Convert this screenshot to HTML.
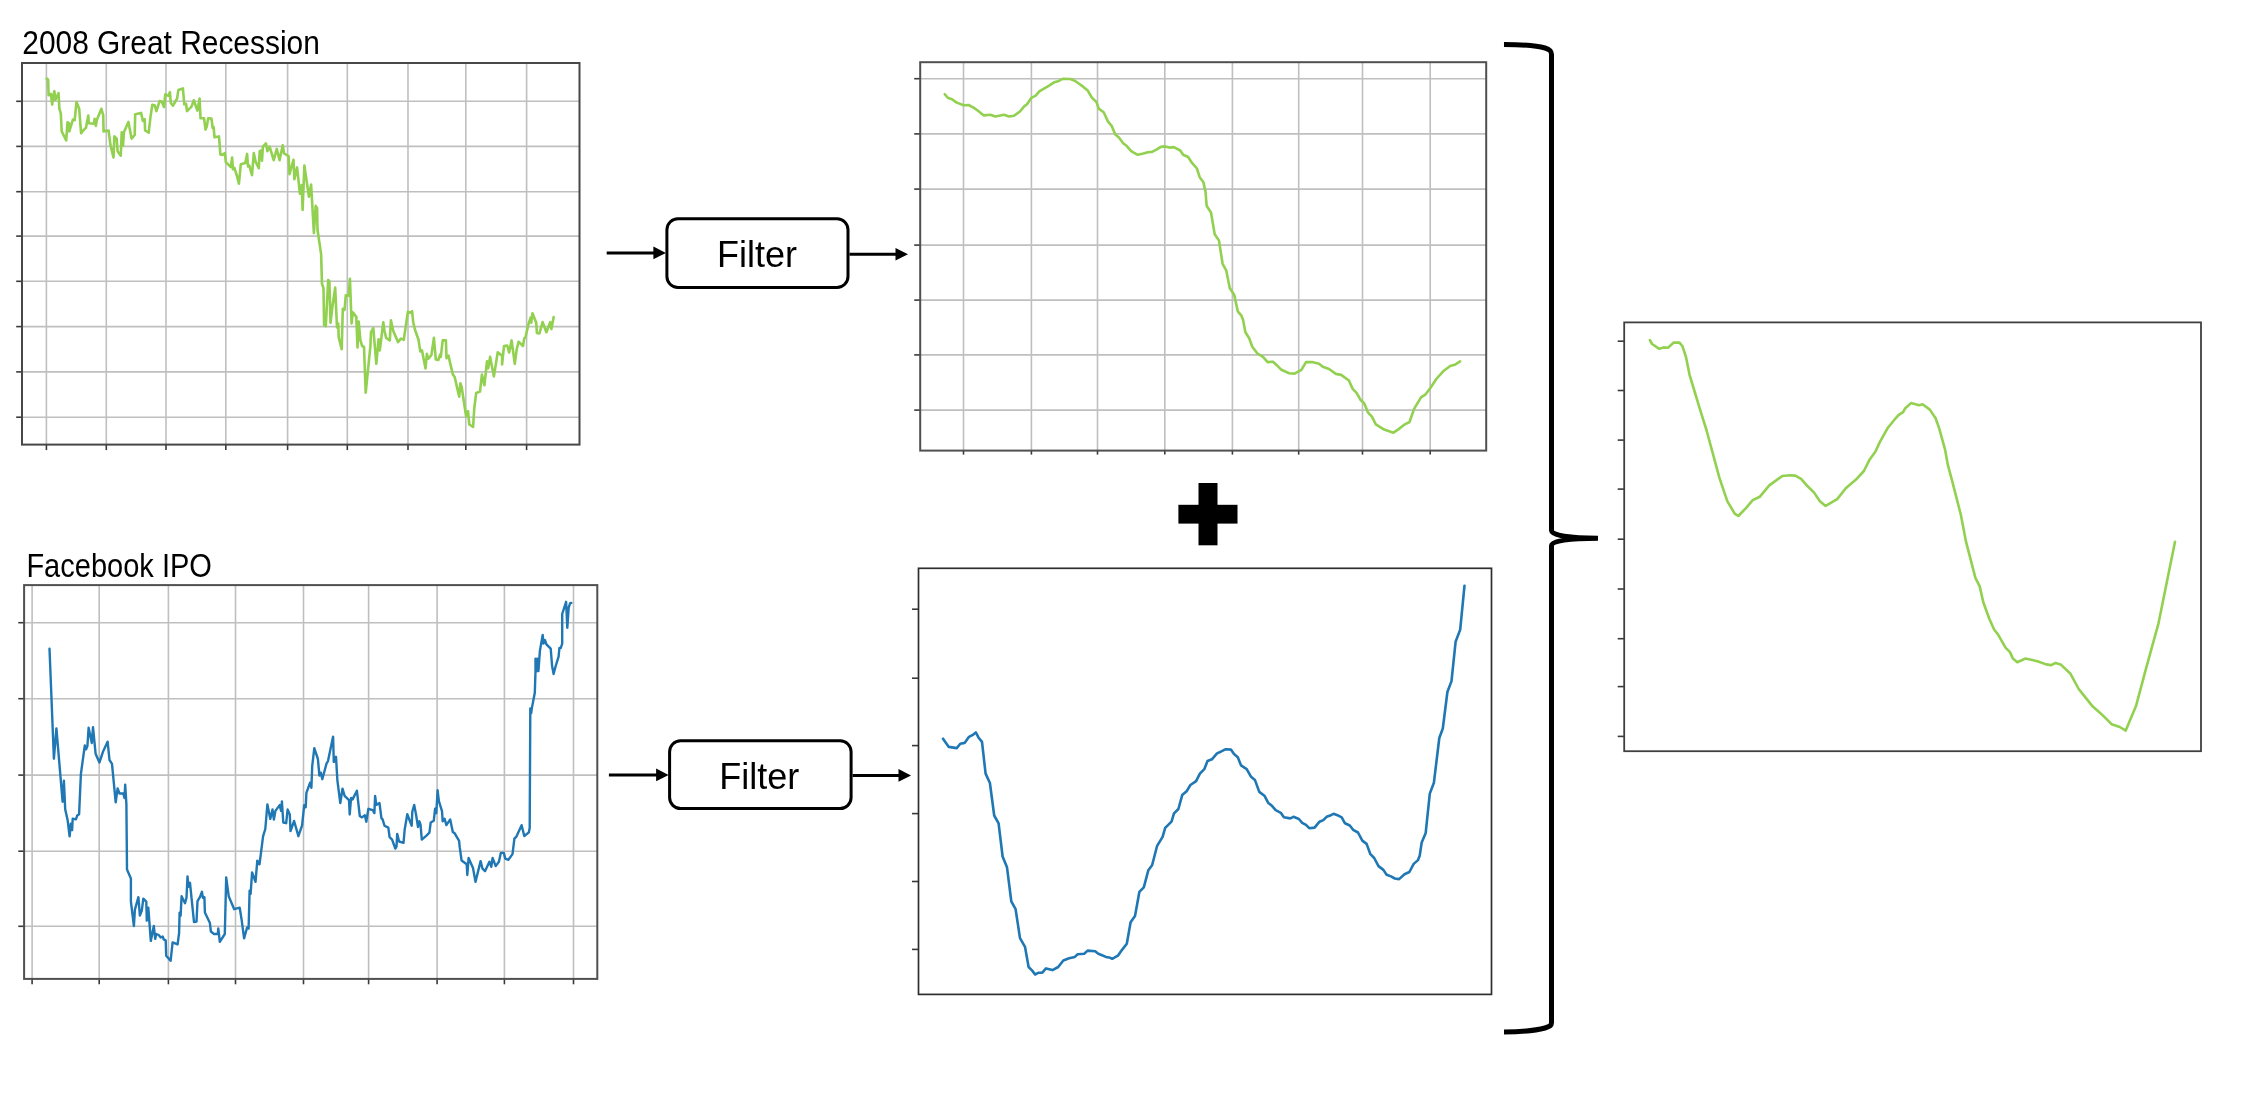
<!DOCTYPE html>
<html><head><meta charset="utf-8"><style>
html,body{margin:0;padding:0;background:#fff;}
body{width:2262px;height:1108px;overflow:hidden;}
svg{display:block;}
text{font-family:"Liberation Sans",sans-serif;fill:#000;}
svg{will-change:transform;}
</style></head><body>
<svg width="2262" height="1108" viewBox="0 0 2262 1108">
<rect width="2262" height="1108" fill="#fff"/>
<line x1="46.4" y1="63" x2="46.4" y2="444.6" stroke="#bfbfbf" stroke-width="1.6"/>
<line x1="106.3" y1="63" x2="106.3" y2="444.6" stroke="#bfbfbf" stroke-width="1.6"/>
<line x1="166" y1="63" x2="166" y2="444.6" stroke="#bfbfbf" stroke-width="1.6"/>
<line x1="225.8" y1="63" x2="225.8" y2="444.6" stroke="#bfbfbf" stroke-width="1.6"/>
<line x1="287.6" y1="63" x2="287.6" y2="444.6" stroke="#bfbfbf" stroke-width="1.6"/>
<line x1="347.3" y1="63" x2="347.3" y2="444.6" stroke="#bfbfbf" stroke-width="1.6"/>
<line x1="408" y1="63" x2="408" y2="444.6" stroke="#bfbfbf" stroke-width="1.6"/>
<line x1="465.8" y1="63" x2="465.8" y2="444.6" stroke="#bfbfbf" stroke-width="1.6"/>
<line x1="526.6" y1="63" x2="526.6" y2="444.6" stroke="#bfbfbf" stroke-width="1.6"/>
<line x1="22" y1="101.3" x2="579.5" y2="101.3" stroke="#bfbfbf" stroke-width="1.6"/>
<line x1="22" y1="146.4" x2="579.5" y2="146.4" stroke="#bfbfbf" stroke-width="1.6"/>
<line x1="22" y1="191.7" x2="579.5" y2="191.7" stroke="#bfbfbf" stroke-width="1.6"/>
<line x1="22" y1="236.1" x2="579.5" y2="236.1" stroke="#bfbfbf" stroke-width="1.6"/>
<line x1="22" y1="281.3" x2="579.5" y2="281.3" stroke="#bfbfbf" stroke-width="1.6"/>
<line x1="22" y1="326.6" x2="579.5" y2="326.6" stroke="#bfbfbf" stroke-width="1.6"/>
<line x1="22" y1="371.9" x2="579.5" y2="371.9" stroke="#bfbfbf" stroke-width="1.6"/>
<line x1="22" y1="417.2" x2="579.5" y2="417.2" stroke="#bfbfbf" stroke-width="1.6"/>
<line x1="16.2" y1="101.3" x2="22" y2="101.3" stroke="#3a3a3a" stroke-width="1.6"/>
<line x1="16.2" y1="146.4" x2="22" y2="146.4" stroke="#3a3a3a" stroke-width="1.6"/>
<line x1="16.2" y1="191.7" x2="22" y2="191.7" stroke="#3a3a3a" stroke-width="1.6"/>
<line x1="16.2" y1="236.1" x2="22" y2="236.1" stroke="#3a3a3a" stroke-width="1.6"/>
<line x1="16.2" y1="281.3" x2="22" y2="281.3" stroke="#3a3a3a" stroke-width="1.6"/>
<line x1="16.2" y1="326.6" x2="22" y2="326.6" stroke="#3a3a3a" stroke-width="1.6"/>
<line x1="16.2" y1="371.9" x2="22" y2="371.9" stroke="#3a3a3a" stroke-width="1.6"/>
<line x1="16.2" y1="417.2" x2="22" y2="417.2" stroke="#3a3a3a" stroke-width="1.6"/>
<line x1="46.4" y1="444.6" x2="46.4" y2="450.1" stroke="#3a3a3a" stroke-width="1.6"/>
<line x1="106.3" y1="444.6" x2="106.3" y2="450.1" stroke="#3a3a3a" stroke-width="1.6"/>
<line x1="166" y1="444.6" x2="166" y2="450.1" stroke="#3a3a3a" stroke-width="1.6"/>
<line x1="225.8" y1="444.6" x2="225.8" y2="450.1" stroke="#3a3a3a" stroke-width="1.6"/>
<line x1="287.6" y1="444.6" x2="287.6" y2="450.1" stroke="#3a3a3a" stroke-width="1.6"/>
<line x1="347.3" y1="444.6" x2="347.3" y2="450.1" stroke="#3a3a3a" stroke-width="1.6"/>
<line x1="408" y1="444.6" x2="408" y2="450.1" stroke="#3a3a3a" stroke-width="1.6"/>
<line x1="465.8" y1="444.6" x2="465.8" y2="450.1" stroke="#3a3a3a" stroke-width="1.6"/>
<line x1="526.6" y1="444.6" x2="526.6" y2="450.1" stroke="#3a3a3a" stroke-width="1.6"/>
<polyline points="46.8,78.6 48.1,79.5 48.6,95.3 50.8,93.9 52.2,104.7 53.1,96.2 54.4,91.2 55.3,99.8 56.7,97.1 58.5,93.0 59.4,108.8 60.8,113.3 61.7,131.4 66.2,140.4 67.5,122.3 68.9,123.2 69.3,131.4 72.9,119.6 74.7,120.1 76.5,102.0 79.2,108.8 81.1,133.2 82.4,131.4 86.0,127.7 88.3,115.6 88.7,123.2 94.1,123.7 94.6,118.7 95.9,125.9 96.8,120.1 101.4,108.8 103.2,115.1 103.6,131.4 108.6,130.5 110.4,144.9 113.5,157.5 114.4,136.3 116.7,138.6 117.6,151.2 120.8,155.7 121.7,132.3 123.0,145.8 123.9,132.3 128.4,121.9 131.6,138.6 134.7,135.0 135.2,114.2 141.1,112.9 142.9,121.0 144.7,119.2 145.1,130.5 148.7,132.7 150.5,116.9 152.3,104.7 154.6,105.2 156.4,111.1 159.6,101.1 161.7,101.6 164.0,107.0 165.3,94.4 168.5,95.8 169.9,92.1 170.8,103.0 173.0,105.7 177.1,98.5 178.4,89.9 182.9,88.4 184.3,104.3 186.1,103.9 187.0,111.1 191.5,106.6 193.8,100.3 197.4,110.6 199.6,98.6 200.5,118.3 204.1,118.3 205.5,129.6 206.8,126.4 208.2,118.3 211.4,118.5 212.7,128.2 213.6,126.9 214.5,137.3 219.0,136.4 220.4,154.4 222.2,154.9 224.9,153.0 225.8,162.1 230.8,167.0 232.1,157.6 233.0,169.3 234.4,167.9 237.1,176.5 238.9,183.7 240.8,164.3 245.3,162.9 247.1,153.9 248.0,166.5 249.3,165.6 252.0,175.1 253.8,153.0 255.6,161.6 258.8,168.3 259.7,151.2 261.5,150.3 262.0,160.7 262.9,146.7 266.0,143.5 267.4,151.2 269.6,146.7 273.7,160.2 276.8,148.9 279.6,160.2 282.7,145.3 284.1,153.5 288.6,156.2 289.5,174.2 293.5,159.8 294.4,179.2 297.1,167.4 299.9,193.6 301.7,185.0 302.6,209.9 304.4,165.6 308.9,196.8 311.1,184.6 313.9,232.9 315.7,205.9 317.1,208.1 317.5,229.8 321.1,254.1 322.0,283.9 323.5,288.2 324.1,325.1 325.8,326.3 328.2,280.0 329.4,281.1 330.5,322.8 332.3,307.5 335.2,287.6 337.0,327.5 338.2,323.4 338.7,337.4 341.7,349.2 342.8,308.7 344.6,309.9 345.8,295.2 348.7,295.8 349.9,278.8 351.6,323.4 352.8,312.2 356.3,316.9 357.5,347.4 358.7,321.6 360.4,340.4 362.2,346.2 364.0,346.8 365.7,392.6 370.4,346.2 371.0,332.2 373.3,328.1 376.3,363.8 378.6,339.2 379.8,350.4 383.3,322.2 384.5,331.0 386.2,338.0 389.8,340.4 390.9,320.4 393.3,331.0 398.0,342.1 400.9,338.6 403.8,339.8 407.9,311.6 410.3,312.8 412.1,311.1 413.2,322.2 415.0,329.8 418.5,339.8 420.3,351.5 422.0,350.4 425.5,368.5 426.9,353.7 428.2,358.8 431.4,355.0 433.9,337.9 435.8,359.4 438.3,360.0 440.2,354.3 440.8,356.9 442.7,340.4 445.9,340.2 446.5,358.1 448.4,355.6 452.9,374.6 454.7,377.1 459.2,396.7 460.4,383.4 461.7,387.2 466.1,416.2 468.0,411.2 469.3,424.5 473.1,427.0 474.3,408.0 476.2,392.9 480.0,391.6 481.9,374.6 484.4,385.3 487.0,361.3 488.2,368.2 490.1,356.9 493.9,376.4 497.7,352.4 502.1,355.6 502.1,364.4 504.0,346.1 507.2,345.5 509.1,352.4 511.6,340.4 514.8,363.9 516.7,349.3 518.6,341.7 523.0,346.1 524.2,338.5 525.5,337.3 528.7,323.4 530.6,317.7 531.2,322.7 532.5,313.3 536.2,322.7 536.9,332.9 539.4,333.5 542.6,322.1 546.4,332.2 550.2,322.1 551.4,329.1 553.7,317.1" fill="none" stroke="#92d050" stroke-width="2.6" stroke-linejoin="round" stroke-linecap="round"/>
<rect x="22" y="63" width="557.5" height="381.6" fill="none" stroke="#474747" stroke-width="2"/>
<line x1="963.5" y1="62.2" x2="963.5" y2="450.6" stroke="#bfbfbf" stroke-width="1.6"/>
<line x1="1031.4" y1="62.2" x2="1031.4" y2="450.6" stroke="#bfbfbf" stroke-width="1.6"/>
<line x1="1097.5" y1="62.2" x2="1097.5" y2="450.6" stroke="#bfbfbf" stroke-width="1.6"/>
<line x1="1164.8" y1="62.2" x2="1164.8" y2="450.6" stroke="#bfbfbf" stroke-width="1.6"/>
<line x1="1232.4" y1="62.2" x2="1232.4" y2="450.6" stroke="#bfbfbf" stroke-width="1.6"/>
<line x1="1298.7" y1="62.2" x2="1298.7" y2="450.6" stroke="#bfbfbf" stroke-width="1.6"/>
<line x1="1362.5" y1="62.2" x2="1362.5" y2="450.6" stroke="#bfbfbf" stroke-width="1.6"/>
<line x1="1430.2" y1="62.2" x2="1430.2" y2="450.6" stroke="#bfbfbf" stroke-width="1.6"/>
<line x1="920.2" y1="78.7" x2="1486.2" y2="78.7" stroke="#bfbfbf" stroke-width="1.6"/>
<line x1="920.2" y1="133.9" x2="1486.2" y2="133.9" stroke="#bfbfbf" stroke-width="1.6"/>
<line x1="920.2" y1="189.1" x2="1486.2" y2="189.1" stroke="#bfbfbf" stroke-width="1.6"/>
<line x1="920.2" y1="245.1" x2="1486.2" y2="245.1" stroke="#bfbfbf" stroke-width="1.6"/>
<line x1="920.2" y1="300.1" x2="1486.2" y2="300.1" stroke="#bfbfbf" stroke-width="1.6"/>
<line x1="920.2" y1="354.9" x2="1486.2" y2="354.9" stroke="#bfbfbf" stroke-width="1.6"/>
<line x1="920.2" y1="410.1" x2="1486.2" y2="410.1" stroke="#bfbfbf" stroke-width="1.6"/>
<line x1="914.2" y1="78.7" x2="920.2" y2="78.7" stroke="#3a3a3a" stroke-width="1.6"/>
<line x1="914.2" y1="133.9" x2="920.2" y2="133.9" stroke="#3a3a3a" stroke-width="1.6"/>
<line x1="914.2" y1="189.1" x2="920.2" y2="189.1" stroke="#3a3a3a" stroke-width="1.6"/>
<line x1="914.2" y1="245.1" x2="920.2" y2="245.1" stroke="#3a3a3a" stroke-width="1.6"/>
<line x1="914.2" y1="300.1" x2="920.2" y2="300.1" stroke="#3a3a3a" stroke-width="1.6"/>
<line x1="914.2" y1="354.9" x2="920.2" y2="354.9" stroke="#3a3a3a" stroke-width="1.6"/>
<line x1="914.2" y1="410.1" x2="920.2" y2="410.1" stroke="#3a3a3a" stroke-width="1.6"/>
<line x1="963.5" y1="450.6" x2="963.5" y2="454.6" stroke="#3a3a3a" stroke-width="1.6"/>
<line x1="1031.4" y1="450.6" x2="1031.4" y2="454.6" stroke="#3a3a3a" stroke-width="1.6"/>
<line x1="1097.5" y1="450.6" x2="1097.5" y2="454.6" stroke="#3a3a3a" stroke-width="1.6"/>
<line x1="1164.8" y1="450.6" x2="1164.8" y2="454.6" stroke="#3a3a3a" stroke-width="1.6"/>
<line x1="1232.4" y1="450.6" x2="1232.4" y2="454.6" stroke="#3a3a3a" stroke-width="1.6"/>
<line x1="1298.7" y1="450.6" x2="1298.7" y2="454.6" stroke="#3a3a3a" stroke-width="1.6"/>
<line x1="1362.5" y1="450.6" x2="1362.5" y2="454.6" stroke="#3a3a3a" stroke-width="1.6"/>
<line x1="1430.2" y1="450.6" x2="1430.2" y2="454.6" stroke="#3a3a3a" stroke-width="1.6"/>
<polyline points="944.8,94.2 947.7,97.8 952.0,99.2 956.3,102.4 963.5,105.3 968.6,105.0 973.6,107.6 978.0,110.8 983.8,115.4 990.3,114.7 995.3,116.5 1004.0,114.7 1009.0,116.5 1014.0,115.8 1019.9,111.5 1024.2,106.4 1027.0,104.3 1031.4,97.8 1035.7,95.6 1039.3,91.3 1044.4,88.4 1048.7,85.9 1054.5,82.2 1058.8,80.9 1063.2,78.7 1070.4,79.0 1074.7,80.7 1079.1,83.8 1083.4,86.9 1087.7,90.5 1092.0,97.8 1096.5,102.1 1098.7,108.6 1103.7,112.2 1108.0,121.6 1111.7,125.9 1115.3,134.6 1118.9,137.5 1123.2,143.2 1126.8,146.1 1131.2,151.2 1137.7,154.8 1143.4,153.4 1147.8,152.2 1152.1,151.9 1156.4,149.7 1160.8,146.9 1165.1,146.4 1169.4,147.6 1173.8,147.1 1180.3,150.5 1183.1,154.8 1188.2,157.0 1191.8,162.7 1196.9,168.5 1199.7,177.2 1203.4,182.2 1205.5,191.6 1206.7,206.0 1211.0,212.5 1214.7,234.2 1219.0,240.6 1222.6,263.8 1226.2,270.3 1229.8,288.3 1234.2,294.8 1237.8,311.4 1241.4,315.7 1243.1,319.9 1245.4,332.2 1249.2,338.3 1252.3,346.8 1257.6,353.7 1263.0,356.8 1267.6,362.1 1273.0,361.7 1276.8,365.2 1281.4,369.8 1289.1,373.3 1294.5,373.6 1301.4,369.8 1306.0,362.1 1312.1,362.1 1319.0,363.7 1322.8,366.7 1329.0,369.0 1335.9,373.9 1341.2,374.9 1348.9,380.5 1352.7,388.9 1356.6,392.8 1360.4,399.7 1364.3,403.5 1368.1,412.7 1371.9,416.6 1375.8,424.3 1384.2,429.6 1393.4,432.7 1398.0,429.6 1404.9,424.3 1409.5,422.0 1414.1,408.9 1421.0,397.4 1425.6,394.3 1430.2,388.2 1436.3,379.0 1443.2,371.3 1450.2,366.0 1455.5,364.4 1460.1,361.4" fill="none" stroke="#92d050" stroke-width="2.6" stroke-linejoin="round" stroke-linecap="round"/>
<rect x="920.2" y="62.2" width="566.0" height="388.40000000000003" fill="none" stroke="#505050" stroke-width="2"/>
<line x1="32.1" y1="585.1" x2="32.1" y2="978.9" stroke="#bfbfbf" stroke-width="1.6"/>
<line x1="99.2" y1="585.1" x2="99.2" y2="978.9" stroke="#bfbfbf" stroke-width="1.6"/>
<line x1="168.4" y1="585.1" x2="168.4" y2="978.9" stroke="#bfbfbf" stroke-width="1.6"/>
<line x1="235.5" y1="585.1" x2="235.5" y2="978.9" stroke="#bfbfbf" stroke-width="1.6"/>
<line x1="303.5" y1="585.1" x2="303.5" y2="978.9" stroke="#bfbfbf" stroke-width="1.6"/>
<line x1="368.6" y1="585.1" x2="368.6" y2="978.9" stroke="#bfbfbf" stroke-width="1.6"/>
<line x1="437.1" y1="585.1" x2="437.1" y2="978.9" stroke="#bfbfbf" stroke-width="1.6"/>
<line x1="504.4" y1="585.1" x2="504.4" y2="978.9" stroke="#bfbfbf" stroke-width="1.6"/>
<line x1="573.5" y1="585.1" x2="573.5" y2="978.9" stroke="#bfbfbf" stroke-width="1.6"/>
<line x1="24.1" y1="622.7" x2="597.3" y2="622.7" stroke="#bfbfbf" stroke-width="1.6"/>
<line x1="24.1" y1="698.7" x2="597.3" y2="698.7" stroke="#bfbfbf" stroke-width="1.6"/>
<line x1="24.1" y1="775.1" x2="597.3" y2="775.1" stroke="#bfbfbf" stroke-width="1.6"/>
<line x1="24.1" y1="851.2" x2="597.3" y2="851.2" stroke="#bfbfbf" stroke-width="1.6"/>
<line x1="24.1" y1="926.3" x2="597.3" y2="926.3" stroke="#bfbfbf" stroke-width="1.6"/>
<line x1="18.3" y1="622.7" x2="24.1" y2="622.7" stroke="#3a3a3a" stroke-width="1.6"/>
<line x1="18.3" y1="698.7" x2="24.1" y2="698.7" stroke="#3a3a3a" stroke-width="1.6"/>
<line x1="18.3" y1="775.1" x2="24.1" y2="775.1" stroke="#3a3a3a" stroke-width="1.6"/>
<line x1="18.3" y1="851.2" x2="24.1" y2="851.2" stroke="#3a3a3a" stroke-width="1.6"/>
<line x1="18.3" y1="926.3" x2="24.1" y2="926.3" stroke="#3a3a3a" stroke-width="1.6"/>
<line x1="32.1" y1="978.9" x2="32.1" y2="984.3" stroke="#3a3a3a" stroke-width="1.6"/>
<line x1="99.2" y1="978.9" x2="99.2" y2="984.3" stroke="#3a3a3a" stroke-width="1.6"/>
<line x1="168.4" y1="978.9" x2="168.4" y2="984.3" stroke="#3a3a3a" stroke-width="1.6"/>
<line x1="235.5" y1="978.9" x2="235.5" y2="984.3" stroke="#3a3a3a" stroke-width="1.6"/>
<line x1="303.5" y1="978.9" x2="303.5" y2="984.3" stroke="#3a3a3a" stroke-width="1.6"/>
<line x1="368.6" y1="978.9" x2="368.6" y2="984.3" stroke="#3a3a3a" stroke-width="1.6"/>
<line x1="437.1" y1="978.9" x2="437.1" y2="984.3" stroke="#3a3a3a" stroke-width="1.6"/>
<line x1="504.4" y1="978.9" x2="504.4" y2="984.3" stroke="#3a3a3a" stroke-width="1.6"/>
<line x1="573.5" y1="978.9" x2="573.5" y2="984.3" stroke="#3a3a3a" stroke-width="1.6"/>
<polyline points="49.5,648.8 53.9,758.7 56.4,728.4 62.6,801.7 63.9,780.8 65.2,809.3 67.7,820.6 69.6,836.4 70.8,823.8 72.1,830.1 72.7,818.7 75.9,819.4 77.2,815.6 79.1,814.3 80.9,773.9 84.8,745.5 86.1,749.3 87.4,746.1 88.6,727.8 91.8,743.0 93.0,727.2 95.6,753.7 99.4,762.5 103.2,751.2 107.6,741.7 109.5,760.0 112.0,763.8 115.7,802.3 117.6,788.4 119.5,793.5 123.3,793.5 124.5,797.9 125.2,784.6 126.4,804.2 127.0,869.4 130.9,878.4 130.9,901.7 133.9,926.0 134.9,909.6 138.4,897.2 139.9,915.6 141.8,910.6 143.3,898.7 146.3,901.7 146.8,920.6 148.3,907.7 150.8,940.9 153.8,926.0 155.2,938.9 156.2,934.0 158.7,935.0 160.7,937.5 162.7,936.5 163.7,939.4 165.7,940.4 166.2,955.8 170.6,960.8 172.6,942.4 177.6,944.4 179.1,933.0 179.6,912.6 180.6,915.6 181.6,896.2 185.0,903.2 186.5,897.7 187.5,876.4 188.5,886.8 190.0,882.8 194.0,922.1 196.5,921.6 197.5,901.2 199.9,897.2 201.9,891.8 202.9,897.7 204.4,897.2 204.9,912.6 209.9,923.1 210.9,931.5 212.8,933.0 213.8,934.0 217.8,934.0 218.3,928.5 219.8,941.9 224.8,934.0 226.2,877.4 228.7,896.2 234.2,909.2 239.7,907.7 241.6,919.6 244.1,938.4 247.1,927.5 248.6,928.5 249.6,890.8 250.6,893.8 252.1,872.4 255.5,881.8 257.3,860.7 259.5,864.3 263.1,836.2 265.3,829.0 267.4,804.4 270.3,818.9 272.5,809.5 273.9,819.6 275.4,810.9 279.7,805.1 281.1,810.9 281.9,801.5 283.3,822.5 286.2,823.2 287.6,809.5 289.8,814.5 290.5,831.1 294.1,821.0 298.4,836.2 302.1,825.4 304.2,805.1 305.7,807.3 306.4,792.9 310.0,782.8 311.4,787.8 312.2,766.2 314.3,748.1 317.9,759.0 319.4,775.6 320.8,772.7 322.3,779.2 326.6,763.3 328.0,761.1 333.1,736.6 333.8,761.9 336.0,756.8 337.4,780.6 340.3,803.0 342.5,788.6 344.6,795.8 349.0,800.1 349.7,814.5 351.1,797.9 352.6,799.4 356.9,790.7 359.8,816.0 361.9,817.4 364.8,815.3 366.3,821.7 368.4,808.8 372.8,810.2 374.4,813.1 375.1,796.0 376.3,804.9 379.5,803.0 381.4,818.1 382.6,819.4 384.5,825.7 388.3,827.6 389.6,837.1 392.1,839.6 395.3,848.5 396.5,846.6 397.2,833.9 399.1,841.5 403.5,842.8 404.7,829.5 407.3,814.3 411.7,825.7 412.3,811.8 414.2,804.9 416.1,815.0 418.0,827.0 419.3,821.3 420.5,824.4 421.8,839.6 426.2,835.8 429.4,832.7 430.7,822.5 433.8,820.7 435.1,808.6 436.3,813.1 437.6,790.3 438.9,801.1 442.0,811.2 442.7,821.3 444.6,818.8 446.4,825.1 450.2,819.4 452.8,832.0 454.7,833.3 459.1,840.9 459.7,847.2 461.6,860.5 466.7,864.2 467.3,875.0 468.6,857.9 473.0,868.0 475.5,881.9 480.6,861.1 482.5,868.7 485.0,871.2 489.4,861.7 491.3,866.8 492.6,857.9 495.7,866.1 498.9,861.7 500.8,852.9 503.9,852.9 505.2,858.6 508.4,859.8 512.5,854.1 514.4,838.7 516.2,836.9 521.6,825.2 524.3,836.0 528.8,832.4 529.7,827.9 530.3,708.5 531.2,713.0 531.9,707.9 534.8,692.7 535.5,671.1 535.5,658.8 536.7,671.1 537.3,658.8 538.4,671.1 539.9,650.9 542.7,635.0 543.5,643.6 544.9,640.0 546.4,644.4 550.7,648.7 552.1,666.0 553.6,674.0 555.7,666.0 558.6,656.6 559.4,648.0 560.8,648.0 562.2,643.6 562.2,614.0 566.1,601.8 567.3,627.8 568.7,607.5 570.2,603.2 571.3,602.9" fill="none" stroke="#1f77b4" stroke-width="2.4" stroke-linejoin="round" stroke-linecap="round"/>
<rect x="24.1" y="585.1" width="573.1999999999999" height="393.79999999999995" fill="none" stroke="#505050" stroke-width="2"/>
<line x1="912.0" y1="609.2" x2="918.5" y2="609.2" stroke="#3a3a3a" stroke-width="1.6"/>
<line x1="912.0" y1="678.2" x2="918.5" y2="678.2" stroke="#3a3a3a" stroke-width="1.6"/>
<line x1="912.0" y1="745.6" x2="918.5" y2="745.6" stroke="#3a3a3a" stroke-width="1.6"/>
<line x1="912.0" y1="813.6" x2="918.5" y2="813.6" stroke="#3a3a3a" stroke-width="1.6"/>
<line x1="912.0" y1="881.5" x2="918.5" y2="881.5" stroke="#3a3a3a" stroke-width="1.6"/>
<line x1="912.0" y1="949.4" x2="918.5" y2="949.4" stroke="#3a3a3a" stroke-width="1.6"/>
<polyline points="943.0,738.7 948.8,746.9 956.7,748.1 960.3,743.7 964.6,742.9 969.0,736.8 973.3,734.6 975.9,732.5 978.3,737.2 982.0,741.9 985.6,773.6 989.9,783.0 994.2,815.5 998.6,823.4 1002.6,856.5 1007.0,867.3 1011.3,901.3 1015.6,909.2 1020.0,938.1 1025.0,946.8 1028.6,967.0 1032.2,970.6 1035.1,974.5 1038.7,972.7 1042.3,972.7 1046.0,968.4 1052.5,970.1 1058.2,967.0 1063.3,960.5 1069.1,958.3 1074.8,956.9 1077.7,954.3 1084.2,953.7 1087.6,950.6 1095.2,951.3 1098.3,953.8 1101.5,955.0 1105.9,956.9 1110.3,957.8 1112.2,958.8 1117.9,955.7 1120.5,951.9 1126.8,943.7 1130.6,922.2 1135.0,915.9 1139.4,891.8 1143.8,887.4 1148.3,870.3 1152.1,865.3 1157.0,846.2 1162.6,836.8 1165.2,827.9 1171.5,821.6 1174.0,813.4 1178.4,809.0 1182.2,795.1 1186.6,791.3 1190.4,785.0 1196.1,781.2 1199.9,773.6 1204.3,769.2 1207.5,761.0 1211.9,759.3 1217.0,753.4 1220.8,751.7 1225.8,749.2 1230.9,749.6 1234.0,754.0 1237.8,757.2 1241.0,765.4 1246.7,769.2 1251.1,776.8 1254.9,779.9 1259.3,791.9 1264.4,795.7 1268.1,802.7 1271.9,805.8 1275.7,810.2 1280.8,812.8 1283.9,817.2 1290.3,818.4 1293.5,816.8 1298.9,819.0 1302.2,822.8 1306.0,824.9 1309.2,828.2 1314.6,827.6 1319.5,821.7 1323.3,820.1 1326.6,816.8 1330.9,815.2 1333.6,813.8 1337.4,815.2 1341.7,817.4 1345.0,823.3 1349.8,825.5 1353.1,829.8 1358.0,832.5 1362.3,840.6 1366.6,843.9 1370.4,854.2 1374.2,858.0 1378.5,866.1 1383.4,869.9 1386.6,874.7 1391.0,876.4 1394.8,878.5 1399.1,879.1 1404.5,874.2 1409.4,872.0 1413.7,863.9 1418.0,860.1 1419.7,855.8 1421.7,842.4 1425.7,832.9 1429.8,793.6 1433.9,782.7 1439.3,738.0 1442.8,728.5 1447.4,692.0 1451.5,681.1 1455.6,641.8 1460.2,629.6 1464.5,585.7" fill="none" stroke="#1f77b4" stroke-width="2.6" stroke-linejoin="round" stroke-linecap="round"/>
<rect x="918.5" y="568.3" width="573.0" height="426.1" fill="none" stroke="#2e2e2e" stroke-width="1.7"/>
<line x1="1617.7" y1="341.2" x2="1624.2" y2="341.2" stroke="#3a3a3a" stroke-width="1.6"/>
<line x1="1617.7" y1="390.5" x2="1624.2" y2="390.5" stroke="#3a3a3a" stroke-width="1.6"/>
<line x1="1617.7" y1="440.1" x2="1624.2" y2="440.1" stroke="#3a3a3a" stroke-width="1.6"/>
<line x1="1617.7" y1="489.1" x2="1624.2" y2="489.1" stroke="#3a3a3a" stroke-width="1.6"/>
<line x1="1617.7" y1="539.2" x2="1624.2" y2="539.2" stroke="#3a3a3a" stroke-width="1.6"/>
<line x1="1617.7" y1="589" x2="1624.2" y2="589" stroke="#3a3a3a" stroke-width="1.6"/>
<line x1="1617.7" y1="638.7" x2="1624.2" y2="638.7" stroke="#3a3a3a" stroke-width="1.6"/>
<line x1="1617.7" y1="686.6" x2="1624.2" y2="686.6" stroke="#3a3a3a" stroke-width="1.6"/>
<line x1="1617.7" y1="736.4" x2="1624.2" y2="736.4" stroke="#3a3a3a" stroke-width="1.6"/>
<polyline points="1649.9,340.1 1652.1,344.0 1659.3,348.8 1663.6,347.4 1668.0,347.7 1673.8,342.6 1679.5,342.6 1682.4,346.2 1686.0,357.0 1689.6,375.1 1694.0,389.5 1698.5,404.5 1706.6,430.5 1719.5,478.2 1727.4,501.3 1734.7,513.6 1738.3,516.0 1746.2,507.8 1752.7,500.1 1759.9,496.7 1769.3,485.4 1782.3,476.0 1789.5,475.3 1795.3,475.6 1801.1,478.9 1806.1,484.7 1814.1,492.6 1819.9,501.3 1825.6,505.9 1837.2,499.1 1845.8,488.3 1856.0,479.6 1863.9,471.0 1869.7,459.4 1875.5,451.5 1879.8,442.1 1887.9,427.7 1894.4,419.7 1898.8,414.9 1903.1,412.1 1905.3,408.2 1911.0,403.1 1919.0,405.3 1922.6,404.3 1929.8,409.6 1935.6,418.3 1939.2,428.4 1945.0,449.3 1947.9,465.2 1952.2,481.1 1960.9,515.0 1966.0,541.7 1975.4,577.8 1979.7,586.4 1983.3,602.3 1989.1,618.2 1994.2,629.7 1997.8,634.1 2005.7,647.8 2010.0,652.1 2012.9,658.6 2017.3,662.2 2025.2,658.6 2032.4,660.1 2038.2,661.5 2046.1,664.4 2051.2,665.1 2055.5,663.0 2060.6,664.4 2070.5,673.8 2078.7,689.0 2083.4,694.9 2092.8,706.6 2101.0,713.7 2111.6,724.2 2119.8,727.0 2125.7,730.6 2136.2,705.4 2145.6,670.2 2158.5,623.3 2175.0,541.8" fill="none" stroke="#92d050" stroke-width="2.6" stroke-linejoin="round" stroke-linecap="round"/>
<rect x="1624.2" y="322.4" width="576.8" height="428.80000000000007" fill="none" stroke="#404040" stroke-width="1.8"/>
<rect x="666.9" y="218.8" width="181.10000000000002" height="68.69999999999999" rx="11" ry="11" fill="none" stroke="#000" stroke-width="3"/>
<line x1="606.7" y1="252.9" x2="655.4" y2="252.9" stroke="#000" stroke-width="3"/>
<polygon points="653.4,246.6 665.9,252.9 653.4,259.2" fill="#000"/>
<line x1="849.5" y1="254.2" x2="898" y2="254.2" stroke="#000" stroke-width="3"/>
<polygon points="895.5,247.89999999999998 908,254.2 895.5,260.5" fill="#000"/>
<text x="717" y="267" font-size="36" textLength="80" lengthAdjust="spacingAndGlyphs">Filter</text>
<rect x="669.6" y="740.8" width="181.5" height="67.80000000000007" rx="11" ry="11" fill="none" stroke="#000" stroke-width="3"/>
<line x1="608.9" y1="774.9" x2="658.1" y2="774.9" stroke="#000" stroke-width="3"/>
<polygon points="656.1,768.6 668.6,774.9 656.1,781.1999999999999" fill="#000"/>
<line x1="852.6" y1="775.4" x2="901" y2="775.4" stroke="#000" stroke-width="3"/>
<polygon points="898.5,769.1 911,775.4 898.5,781.6999999999999" fill="#000"/>
<text x="719.2" y="789.2" font-size="36" textLength="80" lengthAdjust="spacingAndGlyphs">Filter</text>
<rect x="1198.5" y="483" width="19" height="62.3" fill="#000"/>
<rect x="1178.4" y="504.8" width="59.1" height="18.8" fill="#000"/>
<path d="M1504,44.4 C1525,44.6 1538,46 1545,48 C1550,49.5 1551.5,51 1551.5,54.5 L1551.5,530.5 C1551.5,535.5 1570,538.2 1598,538.2 C1570,538.2 1551.5,540.5 1551.5,545.5 L1551.5,1022.5 C1551.5,1025.5 1550,1026.5 1545,1028 C1538,1030 1525,1031.8 1504,1032" fill="none" stroke="#000" stroke-width="5" stroke-linejoin="miter"/>
<text x="22.3" y="54.4" font-size="33" textLength="297.5" lengthAdjust="spacingAndGlyphs">2008 Great Recession</text>
<text x="26.4" y="577" font-size="33" textLength="185.5" lengthAdjust="spacingAndGlyphs">Facebook IPO</text>
</svg>
</body></html>
